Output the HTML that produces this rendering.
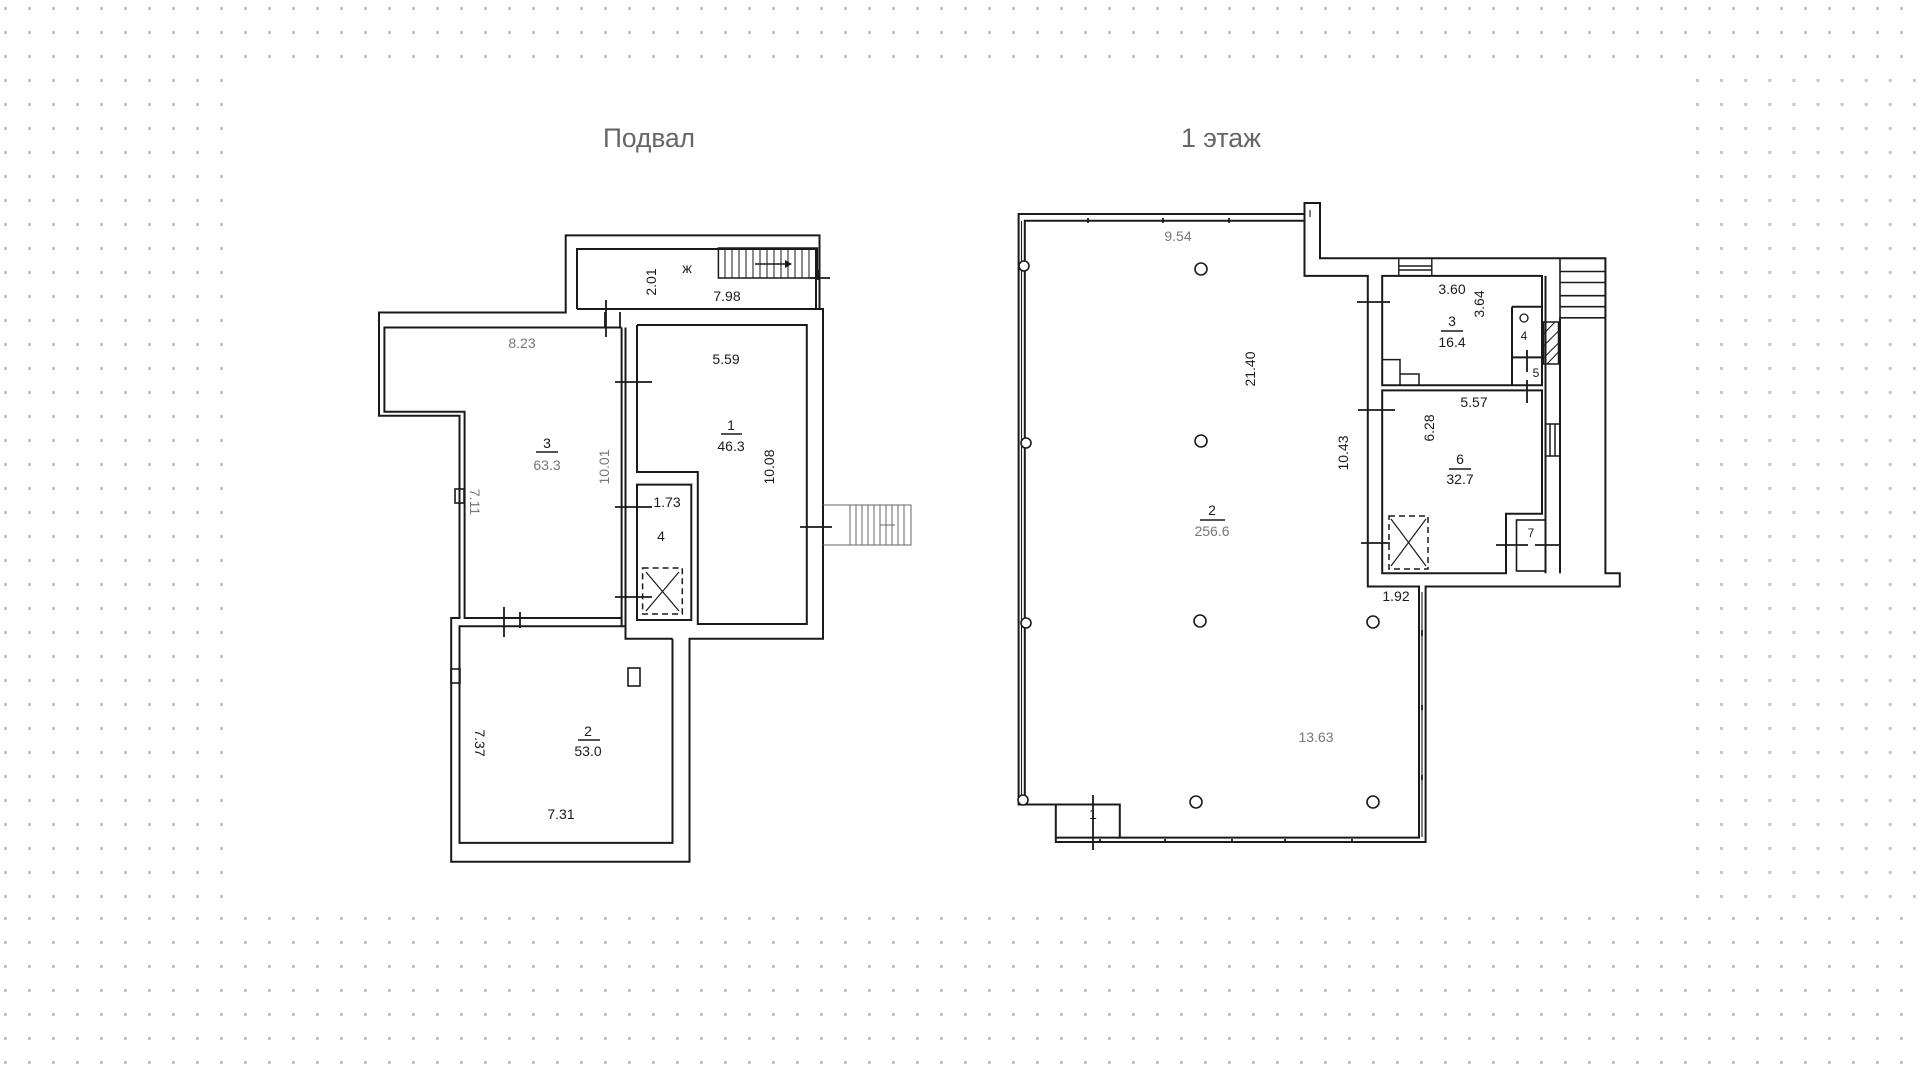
<!DOCTYPE html>
<html><head><meta charset="utf-8"><style>
html,body{margin:0;padding:0;background:#fff;}
svg{display:block;}
text{font-family:"Liberation Sans","DejaVu Sans",sans-serif;}
</style></head><body>
<svg width="1920" height="1078" viewBox="0 0 1920 1078" xmlns="http://www.w3.org/2000/svg">
<defs>
<pattern id="dA" x="4" y="7" width="24" height="24" patternUnits="userSpaceOnUse"><rect x="0" y="0" width="3" height="3" fill="#c4c4c4"/></pattern>
<pattern id="dB" x="1696" y="7" width="24.1" height="24" patternUnits="userSpaceOnUse"><rect x="0" y="0" width="3" height="3" fill="#c4c4c4"/></pattern>
<pattern id="dC" x="4" y="869" width="24" height="24" patternUnits="userSpaceOnUse"><rect x="0" y="0" width="3" height="3" fill="#c4c4c4"/></pattern>
</defs>
<rect x="0" y="0" width="1920" height="66" fill="url(#dA)"/>
<rect x="0" y="66" width="228" height="840" fill="url(#dA)"/>
<rect x="1690" y="66" width="230" height="840" fill="url(#dB)"/>
<rect x="0" y="912" width="1920" height="166" fill="url(#dC)"/>

<text x="649" y="147" font-size="27" fill="#666" text-anchor="middle" textLength="92" lengthAdjust="spacingAndGlyphs">Подвал</text>
<text x="1221" y="147" font-size="27" fill="#666" text-anchor="middle" textLength="80" lengthAdjust="spacingAndGlyphs">1 этаж</text>

<g fill="none" stroke="#1a1a1a" stroke-width="2">
<path d="M565.7,235.4 L819.5,235.4 L819.5,309 L823,309 L823,638.8 L689.5,638.8 L689.5,861.7 L451.2,861.7 L451.2,618 L459.5,618 L459.5,415.8 L379,415.8 L379,312.5 L565.7,312.5 Z"/>
<path d="M577,309 L577,249 L816,249 L816,309 M577,309 L819.5,309"/>
<path d="M621.6,327.5 L384.4,327.5 L384.4,411.7 L464.6,411.7 L464.6,618 L621.6,618"/>
<path d="M621.6,327.5 L621.6,626 M625.5,327.5 L625.5,626"/>
<path d="M637,325 L806.8,325 L806.8,624 L697.8,624 L697.8,472 L637,472 L637,325"/>
<path d="M637,484.6 L691.3,484.6 L691.3,620 L637,620 Z"/>
<path d="M464.6,626.2 L459.5,626.2 L459.5,842.9 L672.5,842.9 L672.5,638.8 M459.5,626.2 L625.5,626.2 L625.5,638.8 L672.5,638.8"/>
<rect x="628" y="668" width="12" height="18" stroke-width="1.6"/>
<rect x="451" y="669" width="9" height="14" stroke-width="1.6"/>
<rect x="455" y="489" width="9" height="14" stroke-width="1.6"/>
<rect x="718.4" y="248" width="99" height="30" stroke-width="1.5"/>
<path stroke-width="1" d="M725,248V278M732,248V278M739,248V278M746,248V278M753,248V278M760,248V278M767,248V278M774,248V278M781,248V278M788,248V278M795,248V278M802,248V278M809,248V278"/>
<path stroke-width="1.5" d="M755,264H785"/>
<path fill="#1a1a1a" stroke="none" d="M785,260L792,264L785,268Z"/>
<path stroke-width="1" stroke="#666" d="M823,505L911,505L911,545L823,545M850,505V545M856,505V545M862,505V545M868,505V545M874,505V545M880,505V545M886,505V545M892,505V545M898,505V545M904,505V545M880,525H895"/>
<rect x="642.6" y="568" width="39.7" height="46" stroke-dasharray="6,4" stroke-width="1.5"/>
<path stroke-width="1.2" d="M646,572L679,611M679,572L646,611"/>
<path stroke-width="1.8" d="M606,300V337M605,312V327M620,312V327 M615,382H652M615,507H652M615,597H652M800,527H832M504,607V637M520,612V626M520,612V628M818,270V280M810,278H830"/>

<path d="M1018.6,214 L1304.5,214 L1304.5,203 L1320,203 L1320,258.3 L1605.4,258.3 L1605.4,573.3 L1619.8,573.3 L1619.8,586.5 L1425.6,586.5 L1425.6,842 L1055.8,842 L1055.8,804.5 L1018.6,804.5 Z"/>
<path d="M1024.8,800 L1024.8,220.8 L1304.5,220.8 M1304.5,214 L1304.5,275.9 L1367.8,275.9 L1367.8,586.5 L1419,586.5 L1419,837.6 L1119.8,837.6 L1119.8,804.5 L1055.8,804.5"/>
<path d="M1055.8,837.6 L1119.8,837.6"/>
<path d="M1382.2,275.9 L1542,275.9 L1542,385.2 L1382.2,385.2 Z"/>
<path d="M1382.2,390.4 L1542,390.4 L1542,513.8 L1506,513.8 L1506,573.3 L1382.2,573.3 Z"/>
<path d="M1545.5,275.9 L1545.5,573.3 M1560,317.8 L1560,573.3"/>
<path d="M1512,306.7 L1542,306.7 M1512,306.7 L1512,385.2 M1512,357.4 L1542,357.4"/>
<rect x="1516.5" y="520" width="29" height="51" stroke-width="1.6"/>
<rect x="1560" y="258.3" width="45.4" height="59.5" stroke-width="1.6"/>
<path stroke-width="1.6" d="M1560,271.5H1605M1560,282.5H1605M1560,295.7H1605M1560,306.7H1605"/>
<rect x="1398.8" y="258.3" width="33" height="17.6" stroke-width="1.4"/>
<path stroke-width="1.4" d="M1398.8,266H1431.8M1398.8,270H1431.8"/>
<path stroke-width="1.5" d="M1382.2,359.6H1400V374H1419V385.2M1400,374V385.2"/>
<rect x="1543.5" y="322" width="15" height="42" stroke-width="1.5"/>
<path stroke-width="1" d="M1543.5,334L1555,322M1543.5,346L1558.5,331M1543.5,358L1558.5,343M1547,364L1558.5,352"/>
<circle cx="1524" cy="318" r="4" stroke-width="1.3"/>
<rect x="1389" y="516" width="39" height="53" stroke-dasharray="6,4" stroke-width="1.5"/>
<path stroke-width="1.2" d="M1391,519L1426,566M1426,519L1391,566"/>
<path stroke-width="1.1" d="M1021.5,221V800 M1310,217V210 M1425.6,586.5V842 M1422,592V837"/>
<path stroke-width="1.8" d="M1088,218V223M1163,218V223M1229,218V223M1100,839V842M1165,839V842M1232,839V842M1285,839V842M1352,839V842M1422,630V636M1422,705V710M1422,775V780"/>
<path stroke-width="1.8" d="M1357,302H1390M1358,410H1395M1361,543H1390M1496,545H1528M1535,545H1560M1527,350V372M1527,380V403M1093,795V850"/>
<path stroke-width="1.5" d="M1545.5,424H1560M1545.5,456H1560M1550,424V456M1555,424V456"/>
<g stroke-width="1.6" fill="#fff">
<circle cx="1201" cy="269" r="6"/><circle cx="1201" cy="441" r="6"/><circle cx="1200" cy="621" r="6"/><circle cx="1196" cy="802" r="6"/>
<circle cx="1373" cy="622" r="6"/><circle cx="1373" cy="802" r="6"/>
<circle cx="1024" cy="266" r="5"/><circle cx="1026" cy="443" r="5"/><circle cx="1026" cy="623" r="5"/><circle cx="1023" cy="800" r="5"/>
</g>
<path stroke-width="1.4" d="M536,452H558M721,434H742M578,740H600M1200,520H1225M1441,331H1463M1449,469H1471"/>
</g>

<g font-size="14" fill="#1a1a1a" text-anchor="middle">
<text x="727" y="301">7.98</text>
<text x="687" y="273">ж</text>
<text x="656" y="282" transform="rotate(-90 656 282)" >2.01</text>
<text x="522" y="348" fill="#777">8.23</text>
<text x="726" y="364">5.59</text>
<text x="731" y="430">1</text><text x="731" y="451">46.3</text>
<text x="547" y="448">3</text><text x="547" y="470" fill="#777">63.3</text>
<text x="609" y="467" transform="rotate(-90 609 467)" fill="#777">10.01</text>
<text x="774" y="467" transform="rotate(-90 774 467)">10.08</text>
<text x="470" y="502" transform="rotate(90 470 502)" fill="#777">7.11</text>
<text x="667" y="507">1.73</text>
<text x="661" y="541">4</text>
<text x="588" y="736">2</text><text x="588" y="756">53.0</text>
<text x="475" y="743" transform="rotate(90 475 743)">7.37</text>
<text x="561" y="819">7.31</text>

<text x="1178" y="241" fill="#777">9.54</text>
<text x="1255" y="369" transform="rotate(-90 1255 369)">21.40</text>
<text x="1212" y="515">2</text><text x="1212" y="536" fill="#777">256.6</text>
<text x="1452" y="294">3.60</text>
<text x="1484" y="304" transform="rotate(-90 1484 304)">3.64</text>
<text x="1452" y="326">3</text><text x="1452" y="347">16.4</text>
<text x="1474" y="407">5.57</text>
<text x="1434" y="428" transform="rotate(-90 1434 428)">6.28</text>
<text x="1460" y="464">6</text><text x="1460" y="484">32.7</text>
<text x="1348" y="453" transform="rotate(-90 1348 453)">10.43</text>
<text x="1396" y="601">1.92</text>
<text x="1316" y="742" fill="#777">13.63</text>
<text x="1093" y="819">1</text>
<text x="1524" y="340" font-size="12">4</text>
<text x="1536" y="377" font-size="12">5</text>
<text x="1531" y="537" font-size="12">7</text>
</g>
</svg>
</body></html>
